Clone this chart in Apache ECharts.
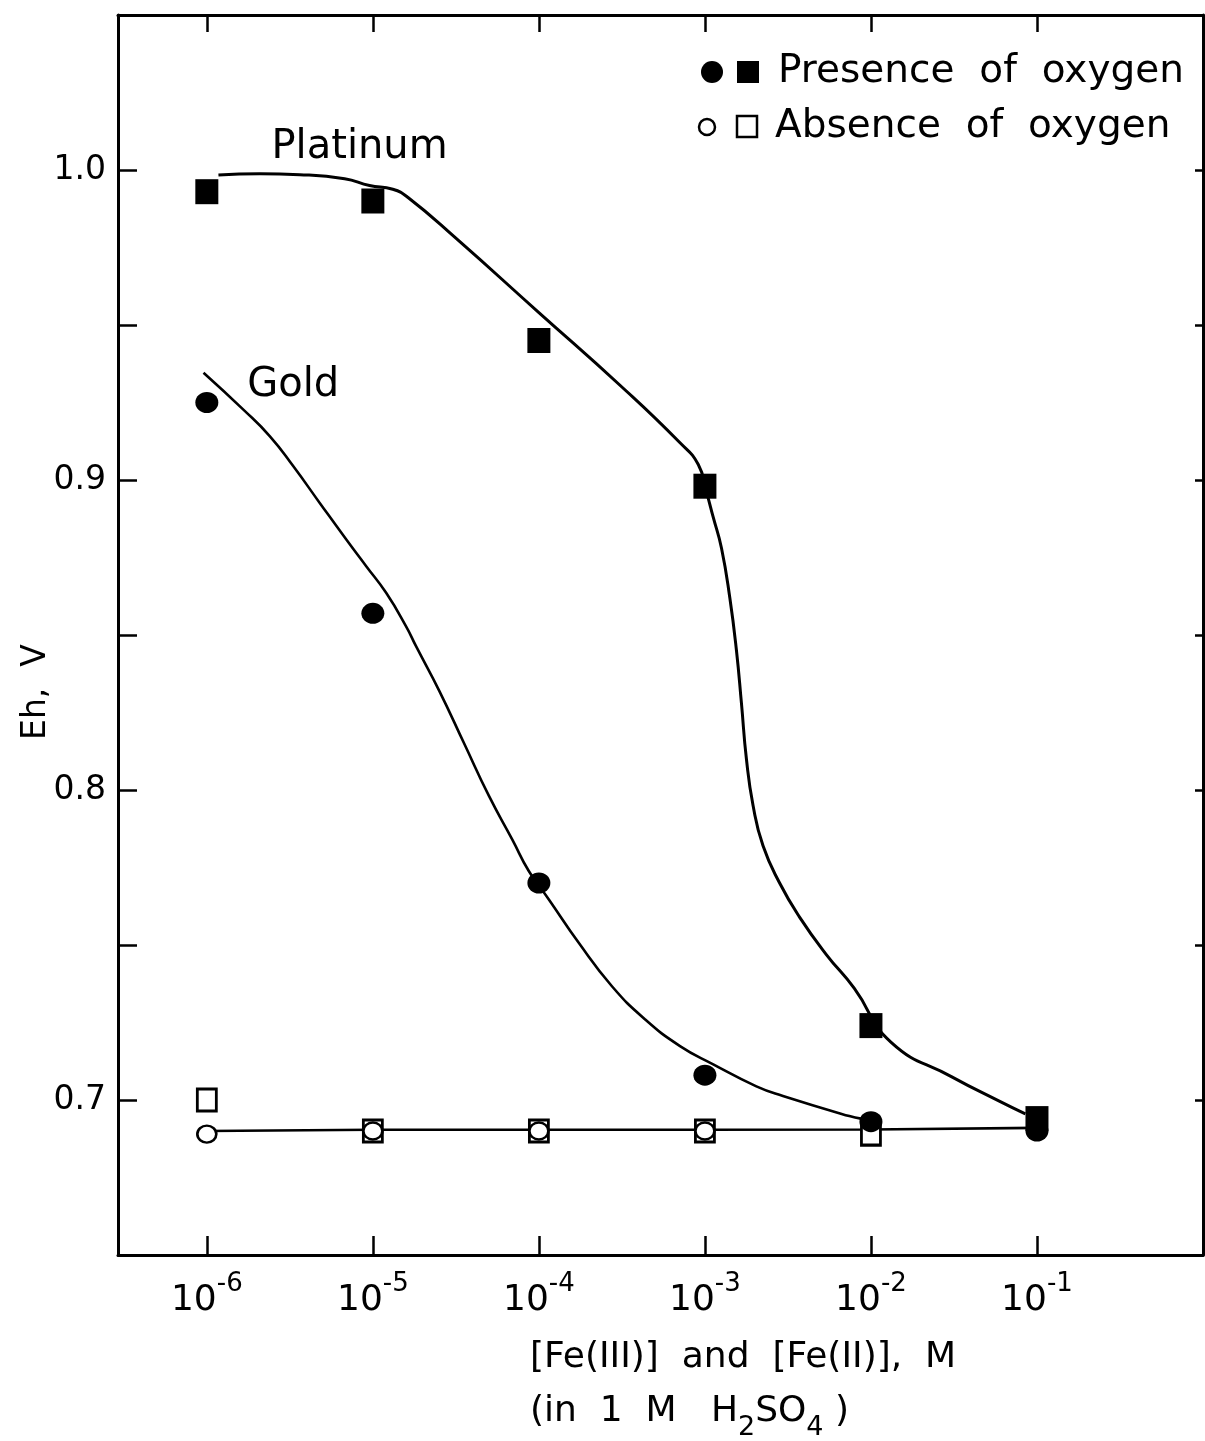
<!DOCTYPE html>
<html>
<head>
<meta charset="utf-8">
<script src="https://cdn.jsdelivr.net/npm/echarts@6/dist/echarts.min.js"></script>
<style>
html, body { margin: 0; padding: 0; background: #fff; }
#chart { width: 1205px; height: 1441px; }
</style>
</head>
<body>
<div id="chart"></div>
<script>
// x is log10 of [Fe(III)] = [Fe(II)], M
var logConc = [-6, -5, -4, -3, -2, -1];
var tickLabels = ['-6', '-5', '-4', '-3', '-2', '-1'];

// Eh (V) measured with oxygen present
var platinumO2 = [0.993, 0.990, 0.945, 0.898, 0.724, 0.694];
var goldO2 = [0.925, 0.857, 0.770, 0.708, 0.693, 0.690];
// Eh (V) measured with oxygen absent
var platinumNoO2 = [0.700, 0.690, 0.690, 0.690, 0.689];
var goldNoO2 = [0.689, 0.690, 0.690, 0.690];

// hand drawn curves
var ptCurveX = [-5.93, -5.68, -5.44, -5.17, -5.02, -4.88, -4.79, -4.50, -4.00, -3.50, -3.15, -3.04,
  -2.99, -2.95, -2.90, -2.85, -2.81, -2.78, -2.75, -2.71, -2.65, -2.55, -2.43, -2.27, -2.10,
  -1.88, -1.51, -1.23, -1.07];
var ptCurveY = [0.9984, 0.9988, 0.9985, 0.9972, 0.9950, 0.9938, 0.9912, 0.9780, 0.9540, 0.9300, 0.9120, 0.9050,
  0.8960, 0.8880, 0.8780, 0.8620, 0.8450, 0.8280, 0.8100, 0.7950, 0.7820, 0.7700, 0.7590, 0.7470, 0.7360,
  0.7187, 0.7074, 0.6997, 0.6955];
var auCurveX = [-6.02, -5.78, -5.62, -5.48, -5.32, -5.16, -5.04, -4.92, -4.80, -4.74, -4.60, -4.45, -4.30,
  -4.16, -4.06, -3.94, -3.76, -3.56, -3.36, -3.15, -2.95, -2.69, -2.53, -2.13, -2.06];
var auCurveY = [0.9346, 0.9227, 0.9141, 0.9045, 0.8926, 0.8808, 0.8722, 0.8636, 0.8528, 0.8464, 0.8320, 0.8150, 0.7980,
  0.7840, 0.7738, 0.7647, 0.7507, 0.7367, 0.7260, 0.7174, 0.7115, 0.7044, 0.7013, 0.6948, 0.6940];
var absenceLineY = [0.6900, 0.6904, 0.6904, 0.6904, 0.6905, 0.6910];

// curve names written on the plot
var annotText = ['Platinum', 'Gold'];
var annotX = [-5.08, -5.48];
var annotY = [1.0072, 0.9306];

var FONT = 'DejaVu Sans';

function pairs(xs, ys) {
  return ys.map(function (y, i) { return [xs[i], y]; });
}

var chart = echarts.init(document.getElementById('chart'));

var axisLine = { show: true, onZero: false, lineStyle: { color: '#000', width: 3 } };

var option = {
  backgroundColor: '#fff',
  animation: false,
  grid: { left: 118, right: 2, top: 15, bottom: 186 },
  xAxis: [{
    type: 'value',
    min: -6.535,
    max: 0,
    position: 'bottom',
    axisLine: axisLine,
    splitLine: { show: false },
    axisTick: { show: true, inside: true, length: 19, customValues: logConc, lineStyle: { color: '#000', width: 2.5 } },
    axisLabel: {
      show: true,
      customValues: logConc,
      margin: 16,
      formatter: function (v) {
        return '{b|10}{s|' + tickLabels[logConc.indexOf(v)] + '}';
      },
      rich: {
        b: { fontFamily: FONT, fontSize: 36, color: '#000', lineHeight: 48, verticalAlign: 'bottom' },
        s: { fontFamily: FONT, fontSize: 26, color: '#000', lineHeight: 26, verticalAlign: 'top' }
      }
    }
  }, {
    type: 'value',
    min: -6.535,
    max: 0,
    position: 'top',
    axisLine: axisLine,
    splitLine: { show: false },
    axisTick: { show: true, inside: true, length: 17, customValues: logConc, lineStyle: { color: '#000', width: 2.5 } },
    axisLabel: { show: false }
  }],
  yAxis: [{
    type: 'value',
    min: 0.65,
    max: 1.05,
    interval: 0.05,
    position: 'left',
    axisLine: axisLine,
    splitLine: { show: false },
    axisTick: { show: true, inside: true, length: 19, lineStyle: { color: '#000', width: 2.5 } },
    axisLabel: {
      margin: 12,
      fontFamily: FONT,
      fontSize: 33,
      color: '#000',
      formatter: function (v) {
        return Math.round(v * 100) % 10 === 0 && v < 1.04 ? v.toFixed(1) : '';
      }
    }
  }, {
    type: 'value',
    min: 0.65,
    max: 1.05,
    interval: 0.05,
    position: 'right',
    axisLine: axisLine,
    splitLine: { show: false },
    axisTick: { show: true, inside: true, length: 8, lineStyle: { color: '#000', width: 2.5 } },
    axisLabel: { show: false }
  }],
  series: [{
    type: 'line',
    data: pairs(ptCurveX, ptCurveY),
    smooth: 0.5,
    showSymbol: false,
    lineStyle: { color: '#000', width: 3 },
    z: 2
  }, {
    type: 'line',
    data: pairs(auCurveX, auCurveY),
    smooth: 0.5,
    showSymbol: false,
    lineStyle: { color: '#000', width: 2.6 },
    z: 2
  }, {
    type: 'line',
    data: pairs(logConc, absenceLineY),
    showSymbol: false,
    lineStyle: { color: '#000', width: 2.6 },
    z: 2
  }, {
    name: 'Pt, no oxygen',
    type: 'scatter',
    data: pairs(logConc, platinumNoO2),
    symbol: 'rect',
    symbolSize: [19, 22],
    itemStyle: { color: '#fff', borderColor: '#000', borderWidth: 3, opacity: 1 },
    z: 3
  }, {
    name: 'Au, no oxygen',
    type: 'scatter',
    data: pairs(logConc, goldNoO2),
    symbol: 'circle',
    symbolSize: [19, 17],
    itemStyle: { color: '#fff', borderColor: '#000', borderWidth: 2.5, opacity: 1 },
    z: 4
  }, {
    name: 'Au, oxygen',
    type: 'scatter',
    data: pairs(logConc, goldO2),
    symbol: 'circle',
    symbolSize: [23, 21],
    itemStyle: { color: '#000', opacity: 1 },
    z: 5
  }, {
    name: 'Pt, oxygen',
    type: 'scatter',
    data: pairs(logConc, platinumO2),
    symbol: 'rect',
    symbolSize: [23, 25],
    itemStyle: { color: '#000', opacity: 1 },
    z: 6
  }, {
    type: 'scatter',
    data: pairs(annotX, annotY),
    symbolSize: 1,
    itemStyle: { color: 'rgba(0,0,0,0)', opacity: 1 },
    label: {
      show: true,
      position: 'inside',
      fontFamily: FONT,
      fontSize: 40,
      color: '#000',
      opacity: 1,
      formatter: function (p) { return annotText[p.dataIndex]; }
    },
    z: 7
  }],
  graphic: [
    // y axis title
    { type: 'text', x: 36, y: 692, rotation: Math.PI / 2, style: { text: 'Eh,  V', fontFamily: FONT, fontSize: 33, fill: '#000', align: 'center', verticalAlign: 'middle' } },
    // legend
    { type: 'circle', shape: { cx: 712, cy: 72, r: 11 }, style: { fill: '#000' } },
    { type: 'rect', shape: { x: 737, y: 61, width: 22, height: 22 }, style: { fill: '#000' } },
    { type: 'text', x: 778, y: 72, style: { text: 'Presence  of  oxygen', fontFamily: FONT, fontSize: 39, fill: '#000', verticalAlign: 'middle' } },
    { type: 'circle', shape: { cx: 707, cy: 127, r: 8 }, style: { fill: '#fff', stroke: '#000', lineWidth: 2.5 } },
    { type: 'rect', shape: { x: 737, y: 116, width: 20, height: 21 }, style: { fill: '#fff', stroke: '#000', lineWidth: 2.5 } },
    { type: 'text', x: 775, y: 127, style: { text: 'Absence  of  oxygen', fontFamily: FONT, fontSize: 39, fill: '#000', verticalAlign: 'middle' } },
    // x axis title
    { type: 'text', x: 530, y: 1358, style: { text: '[Fe(III)]  and  [Fe(II)],  M', fontFamily: FONT, fontSize: 36, fill: '#000', verticalAlign: 'middle' } },
    { type: 'text', x: 530, y: 1394, style: {
      text: '{t|(in  1  M   H}{u|2}{t|SO}{u|4}{t| )}',
      verticalAlign: 'top',
      rich: {
        t: { fontFamily: FONT, fontSize: 36, color: '#000', lineHeight: 40, verticalAlign: 'top' },
        u: { fontFamily: FONT, fontSize: 27, color: '#000', padding: [20, 0, 0, 0], verticalAlign: 'top' }
      }
    } }
  ]
};

chart.setOption(option);
</script>
</body>
</html>
